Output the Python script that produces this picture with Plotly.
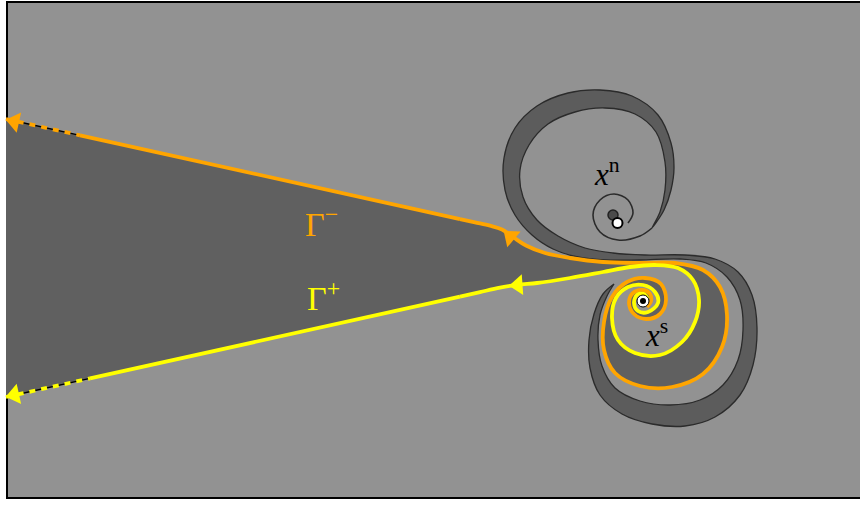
import plotly.graph_objects as go

# ── colours ───────────────────────────────────────────────────────────────
BG_GRAY = "#929292"
DARK_GRAY = "#606060"
BAND_GRAY = "#5c5c5c"
EDGE = "#2b2b2b"
ORANGE = "#FFA500"
YELLOW = "#FFFF00"

# ── data (picture coordinates, y downwards) ───────────────────────────────
# Gamma^- : dashed tail, straight part, then spiral into x^s
orange_tail_x = [6, 80]
orange_tail_y = [119, 135.3]
orange_line_x = [80, 460]
orange_line_y = [135.3, 219.1]
orange_x = [460, 475, 490, 502, 513, 526, 545, 570, 603, 640, 675, 703, 720, 727, 722,
            703, 672, 640, 615, 604, 604, 612, 627, 645, 661, 666, 660, 646, 634, 629,
            633, 643, 650, 651, 647]
orange_y = [219.1, 222.4, 225.7, 229.5, 237, 245.5, 253, 258, 262, 263, 263, 270, 287,
            315, 347, 374, 387, 386, 373, 350, 322, 297, 282, 278, 284, 300, 314, 319,
            314, 303, 293, 290, 294, 301, 307]

# Gamma^+ : dashed tail, straight part, then spiral into x^s
yellow_tail_x = [6, 90]
yellow_tail_y = [397, 378.4]
yellow_line_x = [90, 460]
yellow_line_y = [378.4, 296.6]
yellow_x = [460, 480, 500, 518, 537, 570, 603, 630, 655, 678, 693, 699, 695, 682, 660,
            635, 618, 612, 616, 628, 643, 655, 658, 648, 638, 634, 637, 644, 648]
yellow_y = [296.6, 292.1, 287.7, 284.6, 283, 278, 272, 267, 265, 268, 280, 300, 322,
            342, 355, 353, 340, 318, 298, 287, 285, 292, 303, 312, 311, 303, 295, 294, 299]

# dark wedge between the straight parts
wedge_x = [6, 475, 480, 6]
wedge_y = [119, 222.4, 292.1, 397]

# S-shaped band: x^n outer edge -> x^s inner edge
band_a_x = [652, 664, 671, 674, 671, 658, 632, 600, 568, 537, 515, 504, 505, 515, 532,
            553, 578, 605, 640, 680, 706, 727, 740, 743, 738, 723, 700, 670, 640, 615,
            602, 598, 600, 607, 614]
band_a_y = [228, 210, 190, 168, 143, 115, 96, 90, 93, 106, 128, 158, 190, 215, 235,
            249, 257, 260, 260, 259, 263, 277, 300, 330, 360, 385, 400, 405, 401, 388,
            366, 340, 315, 296, 284]
# x^n inner edge -> x^s outer edge
band_b_x = [652, 660, 665, 665, 656, 635, 605, 575, 548, 529, 520, 523, 537, 558, 585,
            613, 645, 685, 715, 738, 752, 757, 753, 740, 715, 685, 652, 622, 600, 590,
            589, 594, 603, 614]
band_b_y = [228, 212, 190, 162, 132, 114, 108, 112, 124, 145, 170, 197, 220, 236, 248,
            253, 255, 255, 259, 272, 295, 328, 365, 395, 417, 426, 424, 414, 395, 368,
            340, 314, 294, 284]

# thin spiral around x^n
xn_loop_x = [652, 640, 618, 600, 593, 600, 614, 628, 633, 628]
xn_loop_y = [228, 236, 240, 232, 215, 200, 194, 200, 213, 223]

# arrowheads: centre position and rotation (deg, 0 = pointing left)
arrow_orange_x = [14.5, 510.5]
arrow_orange_y = [121.6, 236.5]
arrow_orange_ang = [12.4, 40]
arrow_yellow_x = [14.5, 518]
arrow_yellow_y = [394.9, 285]
arrow_yellow_ang = [-12.4, -4]

# equilibria
xn_point = (617.5, 223)
xn_blob = (613, 215)
xs_point = (643, 301)


fig = go.Figure()

def poly(xs, ys, fill, line_color=None, width=0, shape="linear"):
    fig.add_trace(go.Scatter(
        x=xs, y=ys, mode="lines", fill="toself", fillcolor=fill,
        line=dict(color=line_color or fill, width=width, shape=shape),
        hoverinfo="skip", showlegend=False,
    ))

def curve(xs, ys, color, width, shape="linear", dash=None):
    fig.add_trace(go.Scatter(
        x=xs, y=ys, mode="lines",
        line=dict(color=color, width=width, shape=shape, dash=dash),
        hoverinfo="skip", showlegend=False,
    ))

# dark wedge + spiral strip between Gamma^- and Gamma^+
poly(wedge_x, wedge_y, DARK_GRAY)
poly(orange_x + yellow_x[::-1], orange_y + yellow_y[::-1], DARK_GRAY, shape="spline")
# band around x^n / x^s
poly(band_a_x + band_b_x[::-1], band_a_y + band_b_y[::-1], BAND_GRAY,
     line_color=EDGE, width=1.3, shape="spline")
curve(xn_loop_x, xn_loop_y, EDGE, 1.6, shape="spline")

# Gamma^- / Gamma^+
curve(orange_tail_x, orange_tail_y, "black", 1.3)
curve(orange_tail_x, orange_tail_y, ORANGE, 3.8, dash="6px,6px")
curve(orange_line_x, orange_line_y, ORANGE, 3.8)
curve(orange_x, orange_y, ORANGE, 3.8, shape="spline")
curve(yellow_tail_x, yellow_tail_y, "black", 1.3)
curve(yellow_tail_x, yellow_tail_y, YELLOW, 3.8, dash="6px,6px")
curve(yellow_line_x, yellow_line_y, YELLOW, 3.8)
curve(yellow_x, yellow_y, YELLOW, 3.8, shape="spline")

for ax, ay, aa, col in [(arrow_orange_x, arrow_orange_y, arrow_orange_ang, ORANGE),
                        (arrow_yellow_x, arrow_yellow_y, arrow_yellow_ang, YELLOW)]:
    fig.add_trace(go.Scatter(
        x=ax, y=ay, mode="markers",
        marker=dict(symbol="triangle-left", size=18, color=col, angle=aa,
                    line=dict(width=0)),
        hoverinfo="skip", showlegend=False,
    ))

# equilibria
fig.add_trace(go.Scatter(x=[xn_blob[0]], y=[xn_blob[1]], mode="markers",
                         marker=dict(size=10, color="#4a4a4a", line=dict(color="#222", width=1.5)),
                         hoverinfo="skip", showlegend=False))
fig.add_trace(go.Scatter(x=[xn_point[0]], y=[xn_point[1]], mode="markers",
                         marker=dict(size=10, color="white", line=dict(color="black", width=2)),
                         hoverinfo="skip", showlegend=False))
fig.add_trace(go.Scatter(x=[xs_point[0]], y=[xs_point[1]], mode="markers",
                         marker=dict(size=12, color="white", line=dict(color="black", width=1)),
                         hoverinfo="skip", showlegend=False))
fig.add_trace(go.Scatter(x=[xs_point[0]], y=[xs_point[1]], mode="markers",
                         marker=dict(size=6, color="black"),
                         hoverinfo="skip", showlegend=False))

SERIF = "Liberation Serif, DejaVu Serif, serif"
labels = [
    (607, 172, "<i>x</i><sup>n</sup>", "black", 31),
    (656, 333, "<i>x</i><sup>s</sup>", "black", 31),
    (321, 222, "Γ<sup>−</sup>", ORANGE, 34),
    (323, 296, "Γ<sup>+</sup>", YELLOW, 34),
]
for lx, ly, txt, col, sz in labels:
    fig.add_annotation(x=lx, y=ly, text=txt, showarrow=False, xanchor="center",
                       yanchor="middle", font=dict(family=SERIF, size=sz, color=col))

fig.add_shape(type="rect", x0=7, y0=2, x1=880, y1=498, layer="below",
              fillcolor=BG_GRAY, line=dict(color="black", width=2))

fig.update_layout(
    width=860, height=506,
    margin=dict(l=0, r=0, t=0, b=0),
    paper_bgcolor="white", plot_bgcolor="white",
    showlegend=False,
    xaxis=dict(range=[0, 860], visible=False, fixedrange=True),
    yaxis=dict(range=[506, 0], visible=False, fixedrange=True),
)

fig.write_html("out.html", config={"displayModeBar": False},
               post_script="document.body.style.margin='0';"
                           "document.body.style.overflow='hidden';")
